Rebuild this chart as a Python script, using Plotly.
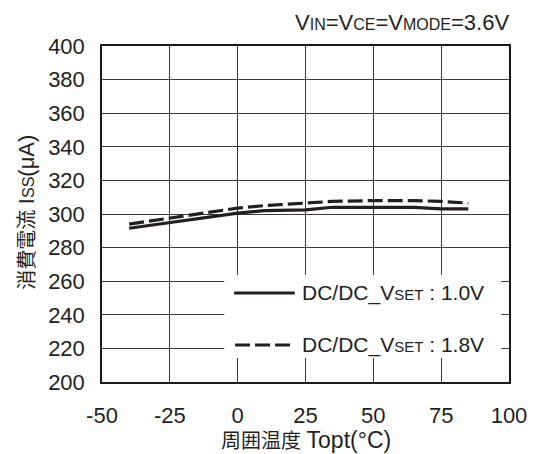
import plotly.graph_objects as go

temps = [-40, -25, 0, 10, 25, 35, 50, 65, 75, 85]
iss_10v = [291.5, 295, 300.5, 302, 302.5, 304, 304, 304, 303, 303]
iss_18v = [294, 297.5, 303.5, 305, 306.5, 307.5, 308, 308, 307.5, 306.5]

x_ticks = [-50, -25, 0, 25, 50, 75, 100]
y_ticks = [200, 220, 240, 260, 280, 300, 320, 340, 360, 380, 400]

FONT = "Liberation Sans, Arial, Noto Sans CJK JP"
INK = "#231f20"


def sp(txt, size):
    return "<span style='font-size:%dpx'>%s</span>" % (size, txt)


fig = go.Figure()
fig.add_trace(go.Scatter(x=temps, y=iss_10v, mode="lines", name="DC/DC_VSET : 1.0V",
                         line=dict(color=INK, width=3.2), showlegend=False))
fig.add_trace(go.Scatter(x=temps, y=iss_18v, mode="lines", name="DC/DC_VSET : 1.8V",
                         line=dict(color=INK, width=3.2, dash="15px,5px"), showlegend=False))

axis_common = dict(showgrid=True, gridcolor="#3a3a3a", gridwidth=1.2, showline=True,
                   linecolor="#1a1a1a", linewidth=1.5, mirror=True, ticks="", zeroline=False,
                   tickfont=dict(family=FONT, size=22, color=INK))
fig.update_xaxes(range=[-50, 100], tickvals=x_ticks, ticktext=[str(v) for v in x_ticks],
                 ticklabelstandoff=13, **axis_common)
fig.update_yaxes(range=[200, 400], tickvals=y_ticks, ticktext=[str(v) for v in y_ticks],
                 ticklabelstandoff=11, **axis_common)

# legend box (white, covers grid)
fig.add_shape(type="rect", xref="paper", yref="paper",
              x0=(227-102)/416, x1=(510-102)/416, y0=(382-358)/336, y1=(382-275)/336,
              fillcolor="white", line=dict(width=0), layer="above")
fig.add_shape(type="line", xref="paper", yref="paper",
              x0=(237-102)/416, x1=(299-102)/416, y0=(382-293)/336, y1=(382-293)/336,
              line=dict(color=INK, width=3.2), layer="above")
fig.add_shape(type="line", xref="paper", yref="paper",
              x0=(238-102)/416, x1=(297-102)/416, y0=(382-345)/336, y1=(382-345)/336,
              line=dict(color=INK, width=3.2, dash="15px,5px"), layer="above")
for txt, yy in [("DC/DC_V" + sp("SET", 15) + " : 1.0V", 293),
                ("DC/DC_V" + sp("SET", 15) + " : 1.8V", 345)]:
    fig.add_annotation(text=txt, xref="paper", yref="paper", x=(304-102)/416, y=(382-yy)/336,
                       xanchor="left", yanchor="middle", showarrow=False,
                       font=dict(family=FONT, size=21, color=INK))

fig.add_annotation(text="V" + sp("IN", 16) + "=V" + sp("CE", 16) + "=V" + sp("MODE", 16) + "=3.6V",
                   xref="paper", yref="paper", x=(520-102)/416, y=(382-22)/336,
                   xanchor="right", yanchor="middle", showarrow=False,
                   font=dict(family=FONT, size=22, color=INK))
fig.add_annotation(text="消費電流 " + sp("I", 22) + sp("SS", 16) + sp("(μA)", 22), xref="paper", yref="paper",
                   x=(24-102)/416, y=(382-212)/336, textangle=-90,
                   xanchor="center", yanchor="middle", showarrow=False,
                   font=dict(family=FONT, size=20, color=INK))
fig.add_annotation(text="周囲温度 " + sp("Topt(°C)", 23), xref="paper", yref="paper",
                   x=(311-102)/416, y=(382-440)/336, xanchor="center", yanchor="middle", showarrow=False,
                   font=dict(family=FONT, size=20, color=INK))

fig.update_layout(width=539, height=454, margin=dict(l=102, r=20, t=46, b=72),
                  paper_bgcolor="white", plot_bgcolor="white", showlegend=False)
fig.write_html("out.html")
